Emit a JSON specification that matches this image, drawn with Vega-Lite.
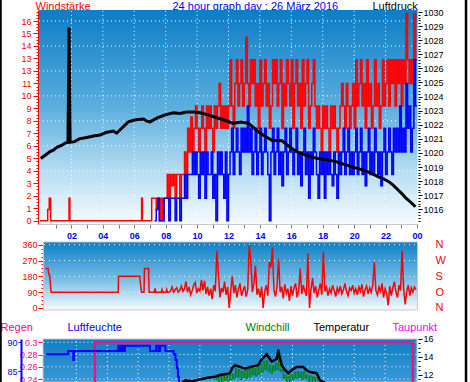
{
"$schema":"https://vega.github.io/schema/vega-lite/v6.json",
"width":380,"height":372,
"autosize":{"type":"none"},
"padding":{"left":38,"top":10,"right":52,"bottom":0},
"background":"white",
"config":{"view":{"stroke":null},"axis":{"labelFont":"Liberation Sans","titleFont":"Liberation Sans","labelFontSize":9,"titleFontSize":11,"titleFontWeight":"normal","grid":false,"labelOverlap":false,"labelFlush":false}},
"datasets":{
"wind":[{"t":0,"g":0},{"t":0.49,"g":0.9},{"t":0.59,"g":1.8},{"t":0.68,"g":0},{"t":1.85,"g":1.8},{"t":1.9,"g":0},{"t":6.47,"g":1.8},{"t":6.52,"g":0},{"t":7.11,"g":1.8},
{"t":7.3,"g":1.8,"a":0},{"t":7.4,"g":0.9,"a":0.9},{"t":7.5,"g":1.8,"a":1.8},{"t":7.6,"g":0,"a":0},{"t":7.7,"g":1.8,"a":0},{"t":7.8,"g":0,"a":0},{"t":7.9,"g":1.8,"a":1.8},{"t":8.0,"g":1.8,"a":1.8},
{"t":8.1,"g":3.7,"a":1.8},{"t":8.2,"g":1.8,"a":0},{"t":8.3,"g":3.7,"a":1.8},{"t":8.4,"g":2.8,"a":1.8},{"t":8.5,"g":3.7,"a":1.8},{"t":8.6,"g":1.8,"a":0},{"t":8.7,"g":3.7,"a":1.8},{"t":8.8,"g":3.7,"a":1.8},{"t":8.9,"g":1.8,"a":0},{"t":9.0,"g":3.7,"a":1.8},
{"t":9.1,"g":3.7,"a":1.8},{"t":9.2,"g":5.5,"a":3.7},{"t":9.3,"g":3.7,"a":1.8},{"t":9.4,"g":7.4,"a":3.7},{"t":9.5,"g":5.5,"a":3.7},{"t":9.6,"g":8.3,"a":3.7},{"t":9.7,"g":5.5,"a":5.5},{"t":9.8,"g":7.4,"a":3.7},{"t":9.9,"g":9.2,"a":5.5},{"t":10.0,"g":7.4,"a":3.7},
{"t":10.1,"g":5.5,"a":1.8},{"t":10.2,"g":7.4,"a":5.5},{"t":10.3,"g":9.2,"a":3.7},{"t":10.4,"g":7.4,"a":5.5},{"t":10.5,"g":5.5,"a":1.8},{"t":10.6,"g":9.2,"a":5.5},{"t":10.7,"g":7.4,"a":3.7},{"t":10.8,"g":9.2,"a":3.7},{"t":10.9,"g":7.4,"a":5.5},{"t":11.0,"g":5.5,"a":1.8},
{"t":11.1,"g":9.2,"a":3.7},{"t":11.2,"g":7.4,"a":0},{"t":11.3,"g":9.2,"a":5.5},{"t":11.4,"g":11,"a":3.7},{"t":11.5,"g":7.4,"a":5.5},{"t":11.6,"g":9.2,"a":3.7},{"t":11.7,"g":7.4,"a":1.8},{"t":11.8,"g":9.2,"a":5.5},{"t":11.9,"g":7.4,"a":0},{"t":12.0,"g":9.2,"a":3.7},
{"t":12.1,"g":12.9,"a":5.5},{"t":12.2,"g":9.2,"a":7.4},{"t":12.3,"g":7.4,"a":3.7},{"t":12.4,"g":11,"a":5.5},{"t":12.5,"g":12.9,"a":7.4},{"t":12.6,"g":9.2,"a":5.5},{"t":12.7,"g":11,"a":3.7},{"t":12.8,"g":12.9,"a":7.4},{"t":12.9,"g":9.2,"a":5.5},{"t":13.0,"g":11,"a":7.4},
{"t":13.1,"g":14.7,"a":5.5},{"t":13.2,"g":11,"a":9.2},{"t":13.3,"g":9.2,"a":5.5},{"t":13.4,"g":12.9,"a":7.4},{"t":13.5,"g":11,"a":3.7},{"t":13.6,"g":12.9,"a":5.5},{"t":13.7,"g":9.2,"a":7.4},{"t":13.8,"g":11,"a":3.7},{"t":13.9,"g":7.4,"a":5.5},{"t":14.0,"g":12.9,"a":7.4},
{"t":14.1,"g":9.2,"a":3.7},{"t":14.2,"g":11,"a":5.5},{"t":14.3,"g":12.9,"a":7.4},{"t":14.4,"g":9.2,"a":5.5},{"t":14.5,"g":11,"a":3.7},{"t":14.6,"g":7.4,"a":0},{"t":14.7,"g":9.2,"a":5.5},{"t":14.8,"g":12.9,"a":7.4},{"t":14.9,"g":11,"a":3.7},{"t":15.0,"g":12.9,"a":5.5},
{"t":15.1,"g":9.2,"a":7.4},{"t":15.2,"g":11,"a":3.7},{"t":15.3,"g":12.9,"a":5.5},{"t":15.4,"g":7.4,"a":2.8},{"t":15.5,"g":11,"a":5.5},{"t":15.6,"g":9.2,"a":7.4},{"t":15.7,"g":12.9,"a":3.7},{"t":15.8,"g":11,"a":5.5},{"t":15.9,"g":9.2,"a":7.4},{"t":16.0,"g":12.9,"a":5.5},
{"t":16.1,"g":7.4,"a":3.7},{"t":16.2,"g":11,"a":5.5},{"t":16.3,"g":12.9,"a":7.4},{"t":16.4,"g":9.2,"a":3.7},{"t":16.5,"g":11,"a":5.5},{"t":16.6,"g":7.4,"a":2.8},{"t":16.7,"g":12.9,"a":5.5},{"t":16.8,"g":9.2,"a":7.4},{"t":16.9,"g":11,"a":3.7},{"t":17.0,"g":12.9,"a":5.5},
{"t":17.1,"g":7.4,"a":1.8},{"t":17.2,"g":9.2,"a":5.5},{"t":17.3,"g":11,"a":3.7},{"t":17.4,"g":12.9,"a":7.4},{"t":17.5,"g":9.2,"a":5.5},{"t":17.6,"g":7.4,"a":3.7},{"t":17.7,"g":9.2,"a":1.8},{"t":17.8,"g":7.4,"a":5.5},{"t":17.9,"g":5.5,"a":3.7},{"t":18.0,"g":9.2,"a":5.5},
{"t":18.1,"g":7.4,"a":1.8},{"t":18.2,"g":9.2,"a":5.5},{"t":18.3,"g":7.4,"a":3.7},{"t":18.4,"g":5.5,"a":5.5},{"t":18.5,"g":9.2,"a":3.7},{"t":18.6,"g":7.4,"a":2.8},{"t":18.7,"g":9.2,"a":5.5},{"t":18.8,"g":7.4,"a":3.7},{"t":18.9,"g":5.5,"a":1.8},{"t":19.0,"g":7.4,"a":5.5},
{"t":19.1,"g":9.2,"a":3.7},{"t":19.2,"g":11,"a":5.5},{"t":19.3,"g":9.2,"a":7.4},{"t":19.4,"g":7.4,"a":3.7},{"t":19.5,"g":11,"a":5.5},{"t":19.6,"g":9.2,"a":7.4},{"t":19.7,"g":7.4,"a":3.7},{"t":19.8,"g":9.2,"a":5.5},{"t":19.9,"g":11,"a":3.7},{"t":20.0,"g":7.4,"a":5.5},
{"t":20.1,"g":12.9,"a":7.4},{"t":20.2,"g":9.2,"a":3.7},{"t":20.3,"g":11,"a":5.5},{"t":20.4,"g":12.9,"a":7.4},{"t":20.5,"g":9.2,"a":3.7},{"t":20.6,"g":11,"a":5.5},{"t":20.7,"g":7.4,"a":2.8},{"t":20.8,"g":12.9,"a":5.5},{"t":20.9,"g":9.2,"a":7.4},{"t":21.0,"g":11,"a":3.7},
{"t":21.1,"g":7.4,"a":5.5},{"t":21.2,"g":9.2,"a":3.7},{"t":21.3,"g":12.9,"a":7.4},{"t":21.4,"g":9.2,"a":5.5},{"t":21.5,"g":11,"a":3.7},{"t":21.6,"g":7.4,"a":5.5},{"t":21.7,"g":9.2,"a":2.8},{"t":21.8,"g":12.9,"a":5.5},{"t":21.9,"g":9.2,"a":7.4},{"t":22.0,"g":11,"a":3.7},
{"t":22.1,"g":12.9,"a":5.5},{"t":22.2,"g":9.2,"a":7.4},{"t":22.3,"g":12.9,"a":5.5},{"t":22.4,"g":11,"a":3.7},{"t":22.5,"g":12.9,"a":7.4},{"t":22.6,"g":9.2,"a":5.5},{"t":22.7,"g":12.9,"a":7.4},{"t":22.8,"g":11,"a":5.5},{"t":22.9,"g":12.9,"a":9.2},{"t":23.0,"g":9.2,"a":5.5},
{"t":23.1,"g":12.9,"a":7.4},{"t":23.2,"g":11,"a":5.5},{"t":23.3,"g":16.6,"a":11},{"t":23.4,"g":12.9,"a":7.4},{"t":23.5,"g":11,"a":9.2},{"t":23.6,"g":12.9,"a":5.5},{"t":23.7,"g":11,"a":7.4},{"t":23.8,"g":16.6,"a":12.9},{"t":23.9,"g":12.9,"a":9.2},{"t":24.0,"g":12.9,"a":9.2}],
"press":[{"t":0.05,"p":1019.6},{"t":0.35,"p":1019.85},{"t":0.64,"p":1020.1},{"t":0.85,"p":1020.2},{"t":1.08,"p":1020.4},{"t":1.4,"p":1020.55},{"t":1.6,"p":1020.7},{"t":1.78,"p":1020.75},{"t":1.85,"p":1028.9},{"t":1.92,"p":1020.75},{"t":2.2,"p":1020.8},{"t":2.5,"p":1021.0},{"t":2.97,"p":1021.1},{"t":3.4,"p":1021.2},{"t":3.82,"p":1021.27},{"t":4.2,"p":1021.45},{"t":4.67,"p":1021.55},{"t":4.88,"p":1021.4},{"t":5.2,"p":1021.75},{"t":5.62,"p":1022.2},{"t":6.1,"p":1022.35},{"t":6.6,"p":1022.4},{"t":6.8,"p":1022.25},{"t":7.0,"p":1022.2},{"t":7.5,"p":1022.5},{"t":7.96,"p":1022.7},{"t":8.49,"p":1022.85},{"t":8.9,"p":1022.8},{"t":9.34,"p":1022.9},{"t":9.8,"p":1022.9},{"t":10.2,"p":1022.85},{"t":10.7,"p":1022.7},{"t":11.25,"p":1022.5},{"t":11.8,"p":1022.3},{"t":12.3,"p":1022.1},{"t":12.8,"p":1022.2},{"t":13.27,"p":1022.1},{"t":13.6,"p":1021.8},{"t":13.9,"p":1021.5},{"t":14.3,"p":1021.2},{"t":14.76,"p":1020.9},{"t":15.4,"p":1020.87},{"t":15.7,"p":1020.6},{"t":16.1,"p":1020.26},{"t":16.5,"p":1020.0},{"t":16.9,"p":1019.85},{"t":17.3,"p":1019.7},{"t":17.7,"p":1019.6},{"t":18.3,"p":1019.5},{"t":18.8,"p":1019.4},{"t":19.2,"p":1019.25},{"t":19.7,"p":1019.07},{"t":20.2,"p":1018.9},{"t":20.7,"p":1018.74},{"t":21.1,"p":1018.55},{"t":21.55,"p":1018.3},{"t":21.9,"p":1018.15},{"t":22.2,"p":1017.96},{"t":22.5,"p":1017.7},{"t":22.8,"p":1017.37},{"t":23.05,"p":1017.1},{"t":23.25,"p":1016.85},{"t":23.6,"p":1016.5},{"t":23.9,"p":1016.18}],
"dir":[{"t":0.0,"d":225},{"t":0.17,"d":225},{"t":0.2,"d":200},{"t":0.28,"d":178},{"t":0.36,"d":90},{"t":4.71,"d":90},{"t":4.73,"d":180},{"t":6.1,"d":180},{"t":6.15,"d":140},{"t":6.22,"d":90},{"t":6.38,"d":90},{"t":6.41,"d":225},{"t":6.68,"d":225},{"t":6.71,"d":90},{"t":7.05,"d":90},{"t":7.1,"d":112},{"t":7.15,"d":90},{"t":7.5,"d":90},{"t":7.55,"d":106},{"t":7.6,"d":90},{"t":7.8,"d":90},{"t":7.85,"d":106},{"t":7.9,"d":90},{"t":8.0,"d":90},
{"t":8.1,"d":95},{"t":8.2,"d":120},{"t":8.3,"d":90},{"t":8.4,"d":105},{"t":8.5,"d":115},{"t":8.6,"d":90},{"t":8.7,"d":100},{"t":8.8,"d":125},{"t":8.9,"d":95},{"t":9.0,"d":110},
{"t":9.1,"d":150},{"t":9.2,"d":90},{"t":9.3,"d":120},{"t":9.4,"d":75},{"t":9.5,"d":100},{"t":9.6,"d":130},{"t":9.7,"d":145},{"t":9.8,"d":85},{"t":9.9,"d":110},{"t":10.0,"d":95},
{"t":10.1,"d":160},{"t":10.2,"d":100},{"t":10.3,"d":155},{"t":10.4,"d":80},{"t":10.5,"d":120},{"t":10.6,"d":70},{"t":10.7,"d":110},{"t":10.8,"d":50},{"t":10.9,"d":130},{"t":11.0,"d":95},
{"t":11.1,"d":326},{"t":11.2,"d":200},{"t":11.3,"d":60},{"t":11.4,"d":115},{"t":11.5,"d":90},{"t":11.6,"d":150},{"t":11.7,"d":75},{"t":11.8,"d":120},{"t":11.9,"d":0},{"t":12.0,"d":100},
{"t":12.1,"d":180},{"t":12.2,"d":85},{"t":12.3,"d":130},{"t":12.4,"d":60},{"t":12.5,"d":110},{"t":12.6,"d":140},{"t":12.7,"d":70},{"t":12.8,"d":100},{"t":12.9,"d":125},{"t":13.0,"d":65},
{"t":13.1,"d":105},{"t":13.2,"d":358},{"t":13.3,"d":270},{"t":13.4,"d":90},{"t":13.5,"d":140},{"t":13.6,"d":240},{"t":13.7,"d":75},{"t":13.8,"d":110},{"t":13.9,"d":60},{"t":14.0,"d":120},
{"t":14.1,"d":0},{"t":14.2,"d":95},{"t":14.3,"d":130},{"t":14.4,"d":70},{"t":14.5,"d":260},{"t":14.6,"d":230},{"t":14.7,"d":345},{"t":14.8,"d":100},{"t":14.9,"d":65},{"t":15.0,"d":125},
{"t":15.1,"d":280},{"t":15.2,"d":90},{"t":15.3,"d":120},{"t":15.4,"d":55},{"t":15.5,"d":135},{"t":15.6,"d":85},{"t":15.7,"d":110},{"t":15.8,"d":40},{"t":15.9,"d":125},{"t":16.0,"d":70},
{"t":16.1,"d":115},{"t":16.2,"d":140},{"t":16.3,"d":60},{"t":16.4,"d":100},{"t":16.5,"d":225},{"t":16.6,"d":80},{"t":16.7,"d":130},{"t":16.8,"d":95},{"t":16.9,"d":70},{"t":17.0,"d":310},
{"t":17.1,"d":0},{"t":17.2,"d":110},{"t":17.3,"d":170},{"t":17.4,"d":85},{"t":17.5,"d":125},{"t":17.6,"d":60},{"t":17.7,"d":100},{"t":17.8,"d":140},{"t":17.9,"d":75},{"t":18.0,"d":320},
{"t":18.1,"d":95},{"t":18.2,"d":120},{"t":18.3,"d":70},{"t":18.4,"d":110},{"t":18.5,"d":85},{"t":18.6,"d":130},{"t":18.7,"d":100},{"t":18.8,"d":65},{"t":18.9,"d":115},{"t":19.0,"d":90},
{"t":19.1,"d":125},{"t":19.2,"d":80},{"t":19.3,"d":105},{"t":19.4,"d":140},{"t":19.5,"d":95},{"t":19.6,"d":70},{"t":19.7,"d":115},{"t":19.8,"d":100},{"t":19.9,"d":130},{"t":20.0,"d":85},
{"t":20.1,"d":110},{"t":20.2,"d":75},{"t":20.3,"d":120},{"t":20.4,"d":95},{"t":20.5,"d":135},{"t":20.6,"d":65},{"t":20.7,"d":105},{"t":20.8,"d":125},{"t":20.9,"d":80},{"t":21.0,"d":115},
{"t":21.1,"d":90},{"t":21.2,"d":130},{"t":21.3,"d":260},{"t":21.4,"d":100},{"t":21.5,"d":75},{"t":21.6,"d":120},{"t":21.7,"d":95},{"t":21.8,"d":140},{"t":21.9,"d":60},{"t":22.0,"d":110},
{"t":22.1,"d":85},{"t":22.2,"d":15},{"t":22.3,"d":125},{"t":22.4,"d":70},{"t":22.5,"d":115},{"t":22.6,"d":150},{"t":22.7,"d":90},{"t":22.8,"d":60},{"t":22.9,"d":130},{"t":23.0,"d":100},
{"t":23.1,"d":325},{"t":23.2,"d":110},{"t":23.3,"d":20},{"t":23.4,"d":95},{"t":23.5,"d":130},{"t":23.6,"d":70},{"t":23.7,"d":115},{"t":23.8,"d":90},{"t":23.9,"d":120},{"t":24.0,"d":105}],
"hum":[{"t":0.05,"h":87.9},{"t":1.47,"h":88.5},{"t":1.8,"h":86.9},{"t":1.84,"h":88.5},{"t":4.72,"h":89.4},{"t":4.82,"h":88.5},{"t":4.92,"h":89.4},{"t":5.05,"h":88.5},{"t":5.15,"h":89.4},{"t":6.77,"h":88.5},{"t":7.17,"h":89.4},{"t":7.32,"h":88.5},{"t":7.42,"h":89.4},{"t":7.77,"h":88.5},{"t":8.3,"h":87.9},{"t":8.42,"h":86.9},{"t":8.5,"h":85.5},{"t":8.58,"h":84},{"t":8.65,"h":82},{"t":8.72,"h":80},{"t":9.0,"h":76}],
"rain":[{"t":0,"r":0},{"t":3.2,"r":0.3},{"t":23.79,"r":0},{"t":24,"r":0}],
"temp":[{"t":0,"c":9.5},{"t":6,"c":9.0},{"t":8.0,"c":10.0},{"t":8.6,"c":10.8},{"t":9.04,"c":11.4},{"t":9.5,"c":11.3},{"t":10.0,"c":11.5},{"t":10.5,"c":11.7},{"t":11.0,"c":11.8},{"t":11.3,"c":12.0},{"t":11.7,"c":12.1},{"t":11.95,"c":12.2},{"t":12.1,"c":12.8},{"t":12.28,"c":13.1},{"t":12.6,"c":12.9},{"t":12.92,"c":12.7},{"t":13.3,"c":12.9},{"t":13.78,"c":13.1},{"t":13.95,"c":13.6},{"t":14.1,"c":13.9},{"t":14.33,"c":14.3},{"t":14.45,"c":14.0},{"t":14.65,"c":13.5},{"t":14.8,"c":13.6},{"t":14.98,"c":13.8},{"t":15.04,"c":14.3},{"t":15.08,"c":14.8},{"t":15.15,"c":14.2},{"t":15.3,"c":13.1},{"t":15.5,"c":12.6},{"t":15.73,"c":12.2},{"t":16.0,"c":12.6},{"t":16.27,"c":12.9},{"t":16.5,"c":12.9},{"t":16.7,"c":12.9},{"t":16.92,"c":12.5},{"t":17.2,"c":12.3},{"t":17.57,"c":12.2},{"t":17.78,"c":11.4},{"t":18.5,"c":10.8},{"t":20,"c":10.0},{"t":24,"c":8.0}],
"chill":[{"t":11.0,"w":11.5},{"t":11.1,"w":12.0},{"t":11.2,"w":11.3},{"t":11.3,"w":11.9},{"t":11.4,"w":11.2},{"t":11.5,"w":12.0},{"t":11.6,"w":11.4},{"t":11.7,"w":12.1},{"t":11.8,"w":11.3},{"t":11.9,"w":12.0},{"t":12.0,"w":11.5},{"t":12.1,"w":12.1},{"t":12.2,"w":11.6},{"t":12.3,"w":12.8},{"t":12.4,"w":11.8},{"t":12.5,"w":12.6},{"t":12.6,"w":11.5},{"t":12.7,"w":12.4},{"t":12.8,"w":11.7},{"t":12.9,"w":12.5},{"t":13.0,"w":11.6},{"t":13.1,"w":12.6},{"t":13.2,"w":11.8},{"t":13.3,"w":12.8},{"t":13.4,"w":12.0},{"t":13.5,"w":12.7},{"t":13.6,"w":11.9},{"t":13.7,"w":12.9},{"t":13.8,"w":12.1},{"t":13.9,"w":13.2},{"t":14.0,"w":12.3},{"t":14.1,"w":13.5},{"t":14.2,"w":12.6},{"t":14.3,"w":13.6},{"t":14.4,"w":12.4},{"t":14.5,"w":13.1},{"t":14.6,"w":12.2},{"t":14.7,"w":13.0},{"t":14.8,"w":12.5},{"t":14.9,"w":13.3},{"t":15.0,"w":12.6},{"t":15.1,"w":14.0},{"t":15.2,"w":12.4},{"t":15.3,"w":12.6},{"t":15.4,"w":11.6},{"t":15.5,"w":12.0},{"t":15.6,"w":11.3},{"t":15.7,"w":11.8},{"t":15.8,"w":11.2},{"t":15.9,"w":12.1},{"t":16.0,"w":11.5},{"t":16.1,"w":12.3},{"t":16.2,"w":11.6},{"t":16.3,"w":12.4},{"t":16.4,"w":11.7},{"t":16.5,"w":12.3},{"t":16.6,"w":11.5},{"t":16.7,"w":12.4},{"t":16.8,"w":11.6},{"t":16.9,"w":12.0},{"t":17.0,"w":11.3},{"t":17.1,"w":11.9},{"t":17.2,"w":11.2},{"t":17.3,"w":11.8},{"t":17.4,"w":11.0},{"t":17.5,"w":11.7},{"t":17.6,"w":10.8},{"t":17.7,"w":11.2},{"t":17.8,"w":10.5},{"t":18.0,"w":10.2}]
},
"resolve":{"scale":{"x":"independent","y":"independent"}},
"layer":[
{"layer":[
 {"data":{"values":[{}]},"mark":{"type":"rect","fill":{"gradient":"linear","x1":0,"y1":0,"x2":0,"y2":1,"stops":[{"offset":0,"color":"#0b7dc5"},{"offset":0.45,"color":"#5aaede"},{"offset":0.75,"color":"#b4dcf2"},{"offset":1,"color":"#f6fbff"}]}},
  "encoding":{"x":{"datum":-0.063,"type":"quantitative","scale":{"domain":[-0.127,24.064],"nice":false,"zero":false},"axis":null},"x2":{"datum":24.033},
   "y":{"datum":-0.25,"type":"quantitative","scale":{"domain":[-12.925,16.883],"nice":false,"zero":false},"axis":null},"y2":{"datum":16.883}}},
 {"data":{"values":[{"w":2},{"w":4},{"w":6},{"w":8},{"w":10},{"w":12},{"w":14},{"w":16}]},"mark":{"type":"rule","color":"white","strokeDash":[1,3],"strokeWidth":1},
  "encoding":{"y":{"field":"w","type":"quantitative","axis":null},"x":{"datum":-0.063,"type":"quantitative","axis":null},"x2":{"datum":24.033}}},
 {"data":{"values":[{"h":2},{"h":4},{"h":6},{"h":8},{"h":10},{"h":12},{"h":14},{"h":16},{"h":18},{"h":20},{"h":22}]},"mark":{"type":"rule","color":"white","strokeDash":[1,3],"strokeWidth":1},
  "encoding":{"x":{"field":"h","type":"quantitative","axis":null},"y":{"datum":-0.25,"type":"quantitative","axis":null},"y2":{"datum":16.883}}},
 {"data":{"values":[{"xb":27.12},{"xb":-2.514}]},"mark":{"type":"rule","color":"black","strokeWidth":2.5},
  "encoding":{"x":{"field":"xb","type":"quantitative","axis":null},"y":{"datum":-13.5,"type":"quantitative","axis":null},"y2":{"datum":17.8}}}
]},
{"data":{"name":"wind"},"mark":{"type":"line","interpolate":"step-after","color":"#ff0000","strokeWidth":1.5},
 "encoding":{"x":{"field":"t","type":"quantitative","scale":{"domain":[-0.127,24.064],"nice":false,"zero":false},"axis":{"orient":"bottom","offset":-158,"values":[1,2,3,4,5,6,7,8,9,10,11,12,13,14,15,16,17,18,19,20,21,22,23,24],"tickSize":4,"tickColor":"#808080","domainColor":"#c8c8c8","labelPadding":3,"labelColor":"#0000ff","labelFontWeight":"bold","labelFontSize":9,"labelExpr":"datum.value % 2 == 1 ? '' : (datum.value == 24 ? '00' : (datum.value < 10 ? '0' + datum.value : '' + datum.value))","title":"24 hour graph day : 26 März 2016","titleColor":"#0000ff","titleX":134,"titleY":-214.5,"titleAlign":"left","titleBaseline":"alphabetic"}},
  "y":{"field":"g","type":"quantitative","scale":{"domain":[-12.925,16.883],"nice":false,"zero":false},"axis":{"orient":"left","values":[0,1,2,3,4,5,6,7,8,9,10,11,12,13,14,15,16],"labelColor":"#ff0000","tickColor":"#ff0000","tickSize":5,"labelPadding":2,"domainColor":"#ff0000","domainDash":[0,158,214,1000],"labelExpr":"datum.value == 12 ? '13' : datum.label","title":"Windstärke","titleColor":"#ff0000","titleAngle":0,"titleAlign":"left","titleBaseline":"alphabetic","titleX":-3,"titleY":-0.5}}}},
{"data":{"name":"wind"},"mark":{"type":"line","interpolate":"step-after","color":"#0000ff","strokeWidth":1.5},
 "encoding":{"x":{"field":"t","type":"quantitative","scale":{"domain":[-0.127,24.064],"nice":false,"zero":false},"axis":null},
  "y":{"field":"a","type":"quantitative","scale":{"domain":[-12.925,16.883],"nice":false,"zero":false},"axis":null}}},
{"data":{"values":[]},"mark":"point",
 "encoding":{"y":{"field":"v","type":"quantitative","scale":{"domain":[-12.925,16.883],"nice":false,"zero":false},"axis":{"orient":"left","values":[0.25,0.5,0.75,1.25,1.5,1.75,2.25,2.5,2.75,3.25,3.5,3.75,4.25,4.5,4.75,5.25,5.5,5.75,6.25,6.5,6.75,7.25,7.5,7.75,8.25,8.5,8.75,9.25,9.5,9.75,10.25,10.5,10.75,11.25,11.5,11.75,12.25,12.5,12.75,13.25,13.5,13.75,14.25,14.5,14.75,15.25,15.5,15.75,16.25,16.5,16.75],"labels":false,"domain":false,"tickSize":2,"tickColor":"#ff0000","title":null}}}},
{"data":{"name":"press"},"mark":{"type":"line","color":"black","strokeWidth":3},
 "encoding":{"x":{"field":"t","type":"quantitative","scale":{"domain":[-0.127,24.064],"nice":false,"zero":false},"axis":null},
  "y":{"field":"p","type":"quantitative","scale":{"domain":[1003.746,1030.142],"nice":false,"zero":false},"axis":{"orient":"right","values":[1016,1017,1018,1019,1020,1021,1022,1023,1024,1025,1026,1027,1028,1029,1030],"format":"d","labelColor":"#000000","tickColor":"#000000","tickSize":4,"labelPadding":1,"domain":false,"title":"Luftdruck","titleColor":"#000000","titleAngle":0,"titleAlign":"left","titleBaseline":"alphabetic","titleX":-46,"titleY":-0.5}}}},
{"data":{"values":[]},"mark":"point",
 "encoding":{"y":{"field":"v","type":"quantitative","scale":{"domain":[1003.746,1030.142],"nice":false,"zero":false},"axis":{"orient":"right","values":[1015.2,1015.4,1015.6,1015.8,1016.2,1016.4,1016.6,1016.8,1017.2,1017.4,1017.6,1017.8,1018.2,1018.4,1018.6,1018.8,1019.2,1019.4,1019.6,1019.8,1020.2,1020.4,1020.6,1020.8,1021.2,1021.4,1021.6,1021.8,1022.2,1022.4,1022.6,1022.8,1023.2,1023.4,1023.6,1023.8,1024.2,1024.4,1024.6,1024.8,1025.2,1025.4,1025.6,1025.8,1026.2,1026.4,1026.6,1026.8,1027.2,1027.4,1027.6,1027.8,1028.2,1028.4,1028.6,1028.8,1029.2,1029.4,1029.6,1029.8],"labels":false,"domain":false,"tickSize":2,"tickColor":"#000000","title":null}}}},
{"layer":[
 {"data":{"values":[{}]},"mark":{"type":"rect","stroke":"#c8c8c8","strokeWidth":1,"fill":{"gradient":"linear","x1":0,"y1":0,"x2":0,"y2":1,"stops":[{"offset":0,"color":"#0e7fc6"},{"offset":0.5,"color":"#6cb7e2"},{"offset":1,"color":"#f6fbff"}]}},
  "encoding":{"x":{"datum":-0.13,"type":"quantitative","scale":{"domain":[-0.486,24.13],"nice":false,"zero":false},"axis":null},"x2":{"datum":24.1},
   "y":{"datum":-11.4,"type":"quantitative","scale":{"domain":[-420.86,1694.8],"nice":false,"zero":false},"axis":null},"y2":{"datum":375.4}}},
 {"data":{"values":[{"d":90},{"d":180},{"d":270},{"d":360}]},"mark":{"type":"rule","color":"white","strokeDash":[1,4],"strokeWidth":1},
  "encoding":{"y":{"field":"d","type":"quantitative","axis":null},"x":{"datum":-0.1,"type":"quantitative","axis":null},"x2":{"datum":24.08}}}
]},
{"data":{"name":"dir"},"mark":{"type":"line","color":"#ff0000","strokeWidth":1.5},
 "encoding":{"x":{"field":"t","type":"quantitative","scale":{"domain":[-0.486,24.13],"nice":false,"zero":false},"axis":null},
  "y":{"field":"d","type":"quantitative","scale":{"domain":[-420.86,1694.8],"nice":false,"zero":false},"axis":{"orient":"left","offset":-5,"values":[0,90,180,270,360],"labelColor":"#ff0000","tickColor":"#ff0000","tickSize":5,"labelPadding":1,"domain":false,"title":null}}}},
{"data":{"values":[]},"mark":"point",
 "encoding":{"y":{"field":"v","type":"quantitative","scale":{"domain":[-420.86,1694.8],"nice":false,"zero":false},"axis":{"orient":"left","offset":-5,"values":[22.5,45,67.5,112.5,135,157.5,202.5,225,247.5,292.5,315,337.5],"labels":false,"domain":false,"tickSize":2,"tickColor":"#ff0000","title":null}}}},
{"data":{"values":[]},"mark":"point",
 "encoding":{"y":{"field":"v","type":"quantitative","scale":{"domain":[-420.86,1694.8],"nice":false,"zero":false},"axis":{"orient":"right","values":[0,90,180,270,360],"ticks":false,"domain":false,"labelPadding":17,"labelColor":"#ff0000","labelFontSize":11,"labelExpr":"datum.value == 90 ? 'O' : (datum.value == 180 ? 'S' : (datum.value == 270 ? 'W' : 'N'))","title":null}}}},
{"layer":[
 {"data":{"values":[{}]},"mark":{"type":"rect","stroke":"#c8c8c8","strokeWidth":1,"fill":{"gradient":"linear","x1":0,"y1":0,"x2":0,"y2":1,"stops":[{"offset":0,"color":"#0f7fc5"},{"offset":1,"color":"#3a98d4"}]}},
  "encoding":{"x":{"datum":-0.162,"type":"quantitative","scale":{"domain":[-0.486,24.13],"nice":false,"zero":false},"axis":null},"x2":{"datum":24.065},
   "y":{"datum":0.2351,"type":"quantitative","scale":{"domain":[0.2351,0.8432],"nice":false,"zero":false},"axis":null},"y2":{"datum":0.3054}}},
 {"data":{"values":[{"r":0.3},{"r":0.28},{"r":0.26},{"r":0.24}]},"mark":{"type":"rule","color":"white","strokeDash":[1,3],"strokeWidth":1},
  "encoding":{"y":{"field":"r","type":"quantitative","axis":null},"x":{"datum":-0.13,"type":"quantitative","axis":null},"x2":{"datum":24.06}}},
 {"data":{"values":[{"h":2},{"h":4},{"h":6},{"h":8},{"h":10},{"h":12},{"h":14},{"h":16},{"h":18},{"h":20},{"h":22}]},"mark":{"type":"rule","color":"white","strokeDash":[1,3],"strokeWidth":1},
  "encoding":{"x":{"field":"h","type":"quantitative","axis":null},"y":{"datum":0.2351,"type":"quantitative","axis":null},"y2":{"datum":0.304}}}
]},
{"data":{"name":"rain"},"mark":{"type":"line","interpolate":"step-after","color":"#ff0a80","strokeWidth":2.5},
 "encoding":{"x":{"field":"t","type":"quantitative","scale":{"domain":[-0.486,24.13],"nice":false,"zero":false},"axis":null},
  "y":{"field":"r","type":"quantitative","scale":{"domain":[0.2351,0.8432],"nice":false,"zero":false},"axis":{"orient":"left","offset":-5,"values":[0.24,0.26,0.28,0.3],"format":".2~f","labelColor":"#ff0080","tickColor":"#ff0080","tickSize":5,"labelPadding":1,"domain":false,"title":"Regen","titleColor":"#ff0080","titleAngle":0,"titleAlign":"left","titleBaseline":"alphabetic","titleX":-43,"titleY":320.5}}}},
{"data":{"name":"hum"},"mark":{"type":"line","interpolate":"step-after","color":"#0000ff","strokeWidth":2},
 "encoding":{"x":{"field":"t","type":"quantitative","scale":{"domain":[-0.486,24.13],"nice":false,"zero":false},"axis":null},
  "y":{"field":"h","type":"quantitative","scale":{"domain":[83.084,147.89],"nice":false,"zero":false},"axis":{"orient":"left","offset":17,"values":[80,85,90],"labelColor":"#0000ff","tickColor":"#0000ff","tickSize":3,"labelPadding":1,"domainColor":"#0000ff","domainWidth":2,"domainDash":[43,1000],"title":"Luftfeuchte","titleColor":"#0000ff","titleAngle":0,"titleAlign":"left","titleBaseline":"alphabetic","titleX":46,"titleY":320.5}}}},
{"data":{"name":"chill"},"mark":{"type":"line","interpolate":"step-after","color":"#008000","strokeWidth":1},
 "encoding":{"x":{"field":"t","type":"quantitative","scale":{"domain":[-0.486,24.13],"nice":false,"zero":false},"axis":null},
  "y":{"field":"w","type":"quantitative","scale":{"domain":[11.222,52.556],"nice":false,"zero":false},"axis":{"orient":"right","labels":false,"ticks":false,"domain":false,"title":"Windchill","titleColor":"#008000","titleAngle":0,"titleAlign":"left","titleBaseline":"alphabetic","titleX":-173,"titleY":320.5}}}},
{"data":{"name":"temp"},"mark":{"type":"line","color":"#000000","strokeWidth":2.5},
 "encoding":{"x":{"field":"t","type":"quantitative","scale":{"domain":[-0.486,24.13],"nice":false,"zero":false},"axis":null},
  "y":{"field":"c","type":"quantitative","scale":{"domain":[11.222,52.556],"nice":false,"zero":false},"axis":{"orient":"right","values":[10,12,14,16],"labelColor":"#000000","tickColor":"#000000","tickSize":4,"labelPadding":1,"domain":false,"title":"Temperatur","titleColor":"#000000","titleAngle":0,"titleAlign":"left","titleBaseline":"alphabetic","titleX":-105,"titleY":320.5}}}},
{"data":{"values":[]},"mark":"point",
 "encoding":{"y":{"field":"v","type":"quantitative","scale":{"domain":[11.222,52.556],"nice":false,"zero":false},"axis":{"orient":"right","values":[11.5,12.5,13,13.5,14.5,15,15.5],"labels":false,"domain":false,"tickSize":2,"tickColor":"#000000","title":null}}}},
{"data":{"values":[]},"mark":"point",
 "encoding":{"y":{"field":"v","type":"quantitative","scale":{"domain":[11.222,52.556],"nice":false,"zero":false},"axis":{"orient":"right","labels":false,"ticks":false,"domain":false,"title":"Taupunkt","titleColor":"#ff00ff","titleAngle":0,"titleAlign":"left","titleBaseline":"alphabetic","titleX":-26,"titleY":320.5}}}}
]
}
